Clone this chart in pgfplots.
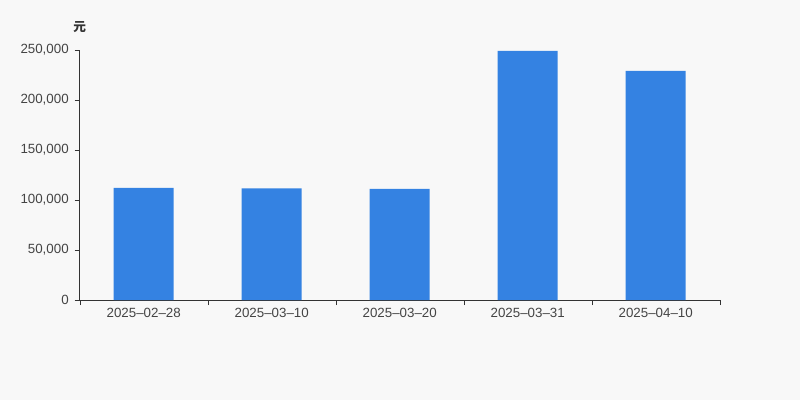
\documentclass[border=0pt]{standalone}
\usepackage{pgfplots}
\pgfplotsset{compat=1.18}
\usepackage{fontspec}
\setmainfont{Liberation Sans}
\newfontfamily\cjk{Noto Sans CJK SC}
\definecolor{bg}{HTML}{F8F8F8}
\definecolor{barblue}{HTML}{3482E2}
\definecolor{axisgray}{HTML}{333333}
\definecolor{labelgray}{HTML}{444444}
\begin{document}
\begin{tikzpicture}[x=0.75pt,y=0.75pt]
  \fill[bg] (0,0) rectangle (800,400);
  \begin{axis}[
    at={(62.3,100)}, anchor=south west,
    scale only axis,
    width=480pt, height=187.5pt,
    ybar, bar width=45pt,
    bar shift=0pt,
    xmin=-0.5, xmax=4.5,
    ymin=0, ymax=250000,
    xtick={0,...,4},
    xticklabels={2025--02--28,2025--03--10,2025--03--20,2025--03--31,2025--04--10},
    minor xtick={-0.5,0.5,...,4.5},
    major x tick style={draw=none},
    minor x tick style={axisgray},
    ytick={0,50000,100000,150000,200000,250000},
    yticklabels={0,{50,000},{100,000},{150,000},{200,000},{250,000}},
    scaled y ticks=false,
    tick align=outside,
    major tick length=3.75pt,
    minor tick length=3.75pt,
    axis x line*=bottom, axis y line*=left,
    axis line style={axisgray, line width=0.6pt},
    y tick style={axisgray},
    tick label style={font=\fontsize{10}{12}\selectfont, text=labelgray},
    xticklabel style={yshift=1.5pt},
    yticklabel style={xshift=-1pt},
    axis background/.style={fill=bg},
    clip=false,
  ]
    \addplot[fill=barblue, draw=none] coordinates {(0,112000) (1,111500) (2,111000) (3,249000) (4,229000)};
    \node[font=\cjk\bfseries\fontsize{9.5}{10}\selectfont, text=axisgray, anchor=base]
      at ([yshift=14pt]rel axis cs:0,1) {元};
  \end{axis}
\end{tikzpicture}
\end{document}
